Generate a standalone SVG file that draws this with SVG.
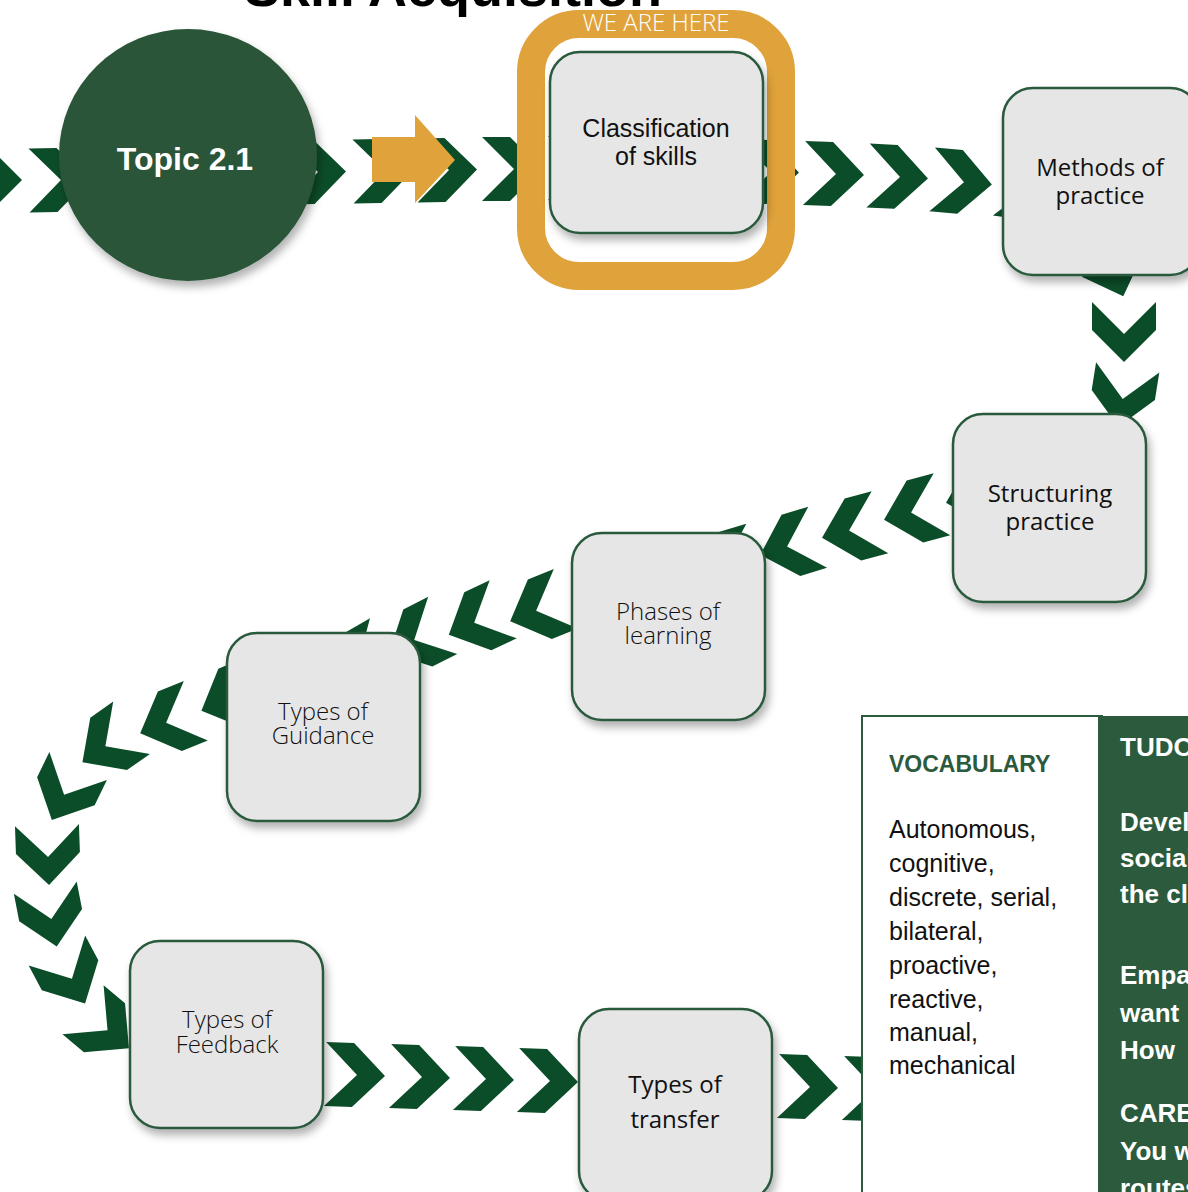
<svg xmlns="http://www.w3.org/2000/svg" width="1188" height="1192" viewBox="0 0 1188 1192">
<defs>
<style>
.box{fill:#e6e6e6;stroke:#2c5a3c;stroke-width:2.5;filter:url(#sh)}
.lbl{font-family:"Open Sans","Noto Sans",sans-serif;font-weight:300;font-size:24px;fill:#111;text-anchor:middle}
.reg{font-weight:400}
.cal{font-family:"Liberation Sans",Arial,sans-serif;font-size:25px;fill:#111;text-anchor:middle}
.chev{fill:#0c4d29}
.voc{font-family:"Liberation Sans",Arial,sans-serif;font-size:25px;fill:#111}
.side{font-family:"Liberation Sans",Arial,sans-serif;font-weight:bold;font-size:26px;fill:#fff}
</style>
<filter id="sh" x="-20%" y="-20%" width="150%" height="150%">
<feDropShadow dx="3" dy="6" stdDeviation="4" flood-color="#000" flood-opacity="0.3"/>
</filter>
<polygon id="chev" points="-30,-32 -2,-32 30,0 -2,32 -30,32 2,0"/>
</defs>
<rect width="1188" height="1192" fill="#fff"/>

<g id="title">
<text x="453" y="6" font-family="Liberation Sans, Arial, sans-serif" font-weight="bold" font-size="54" text-anchor="middle" fill="#000">Skill Acquisition</text>
</g>

<g id="connectors" class="chev">
<use href="#chev" transform="translate(-8,180)"/>
<use href="#chev" transform="translate(59,180) rotate(-1)"/>
<use href="#chev" transform="translate(316,172) rotate(-1)"/>
<use href="#chev" transform="translate(383,171) rotate(-1)"/>
<use href="#chev" transform="translate(447,170) rotate(-1)"/>
<use href="#chev" transform="translate(512,169)"/>
<use href="#chev" transform="translate(578,168)"/>
<use href="#chev" transform="translate(769,172) rotate(1)"/>
<use href="#chev" transform="translate(834,174) rotate(2)"/>
<use href="#chev" transform="translate(898,177) rotate(3)"/>
<use href="#chev" transform="translate(962,182) rotate(5)"/>
<use href="#chev" transform="translate(1027,188) rotate(8)"/>
<use href="#chev" transform="translate(1113,268) rotate(70)"/>
<use href="#chev" transform="translate(1124,332) rotate(90)"/>
<use href="#chev" transform="translate(1123,397) rotate(99)"/>
<use href="#chev" transform="translate(975,495) rotate(165)"/>
<use href="#chev" transform="translate(913,512) rotate(165)"/>
<use href="#chev" transform="translate(851,530) rotate(165)"/>
<use href="#chev" transform="translate(789,546) rotate(163)"/>
<use href="#chev" transform="translate(727,563) rotate(163)"/>
<use href="#chev" transform="translate(538,610) rotate(158)"/>
<use href="#chev" transform="translate(476,622) rotate(155)"/>
<use href="#chev" transform="translate(416,639) rotate(153)"/>
<use href="#chev" transform="translate(360,661) rotate(150)"/>
<use href="#chev" transform="translate(229,699) rotate(157)"/>
<use href="#chev" transform="translate(168,722) rotate(158)"/>
<use href="#chev" transform="translate(107,745) rotate(145)"/>
<use href="#chev" transform="translate(65,793) rotate(116)"/>
<use href="#chev" transform="translate(48,855) rotate(88)"/>
<use href="#chev" transform="translate(51,917) rotate(79)"/>
<use href="#chev" transform="translate(71,977) rotate(62)"/>
<use href="#chev" transform="translate(106,1029) rotate(40)"/>
<use href="#chev" transform="translate(355,1075) rotate(2)"/>
<use href="#chev" transform="translate(420,1077) rotate(2)"/>
<use href="#chev" transform="translate(484,1079) rotate(2)"/>
<use href="#chev" transform="translate(548,1081) rotate(2)"/>
<use href="#chev" transform="translate(808,1087) rotate(2)"/>
<use href="#chev" transform="translate(873,1089) rotate(2)"/>
</g>

<g id="topic">
<ellipse cx="188" cy="155" rx="129" ry="126" fill="#2b5539" filter="url(#sh)"/>
<text x="185" y="170" font-family="Liberation Sans, Arial, sans-serif" font-weight="bold" font-size="32" text-anchor="middle" fill="#fff">Topic 2.1</text>
</g>

<g id="here-arrow">
<polygon points="372,137 415,137 415,115 455,160 415,203 415,182 372,182" fill="#e0a23a"/>
</g>

<g id="we-are-here">
<rect x="531" y="24" width="250" height="252" rx="48" fill="none" stroke="#e0a23a" stroke-width="28"/>
<text x="656" y="31" font-family="Open Sans, Noto Sans, sans-serif" font-weight="300" font-size="24" text-anchor="middle" fill="#fff">WE ARE HERE</text>
</g>

<g id="classification">
<rect class="box" x="550" y="52" width="213" height="181" rx="30"/>
<text class="cal" x="656" y="137">Classification</text>
<text class="cal" x="656" y="165">of skills</text>
</g>

<g id="methods">
<rect class="box" x="1003" y="88" width="197" height="187" rx="30"/>
<text class="lbl reg" x="1100" y="176" font-size="24.5">Methods of</text>
<text class="lbl reg" x="1100" y="204" font-size="24.5">practice</text>
</g>

<g id="structuring">
<rect class="box" x="953" y="414" width="193" height="188" rx="30"/>
<text class="lbl reg" x="1050" y="502" font-size="24.5">Structuring</text>
<text class="lbl reg" x="1050" y="530" font-size="24.5">practice</text>
</g>

<g id="phases">
<rect class="box" x="572" y="533" width="193" height="187" rx="30"/>
<text class="lbl" x="668" y="620">Phases of</text>
<text class="lbl" x="668" y="644">learning</text>
</g>

<g id="guidance">
<rect class="box" x="227" y="633" width="193" height="188" rx="30"/>
<text class="lbl" x="323" y="720">Types of</text>
<text class="lbl" x="323" y="744">Guidance</text>
</g>

<g id="feedback">
<rect class="box" x="130" y="941" width="193" height="187" rx="30"/>
<text class="lbl" x="227" y="1028">Types of</text>
<text class="lbl" x="227" y="1053">Feedback</text>
</g>

<g id="transfer">
<rect class="box" x="579" y="1009" width="193" height="192" rx="30"/>
<text class="lbl reg" x="675" y="1093" font-size="27">Types of</text>
<text class="lbl reg" x="675" y="1128" font-size="27">transfer</text>
</g>

<g id="vocabulary">
<rect x="862" y="716" width="240" height="490" fill="#fff" stroke="#2c5a3c" stroke-width="2"/>
<text x="889" y="772" font-family="Liberation Sans, Arial, sans-serif" font-weight="bold" font-size="23" fill="#2c5a3c">VOCABULARY</text>
<text class="voc" x="889" y="838">Autonomous,</text>
<text class="voc" x="889" y="872">cognitive,</text>
<text class="voc" x="889" y="906">discrete, serial,</text>
<text class="voc" x="889" y="940">bilateral,</text>
<text class="voc" x="889" y="974">proactive,</text>
<text class="voc" x="889" y="1008">reactive,</text>
<text class="voc" x="889" y="1041">manual,</text>
<text class="voc" x="889" y="1074">mechanical</text>
</g>

<g id="side-panel">
<rect x="1098" y="716" width="100" height="490" fill="#2c5a3c"/>
<text class="side" x="1120" y="756">TUDO</text>
<text class="side" x="1120" y="831">Devel</text>
<text class="side" x="1120" y="867">social</text>
<text class="side" x="1120" y="903">the cl</text>
<text class="side" x="1120" y="984">Empa</text>
<text class="side" x="1120" y="1022">want</text>
<text class="side" x="1120" y="1059">How</text>
<text class="side" x="1120" y="1122">CAREE</text>
<text class="side" x="1120" y="1160">You w</text>
<text class="side" x="1120" y="1197">routes</text>
</g>
</svg>
